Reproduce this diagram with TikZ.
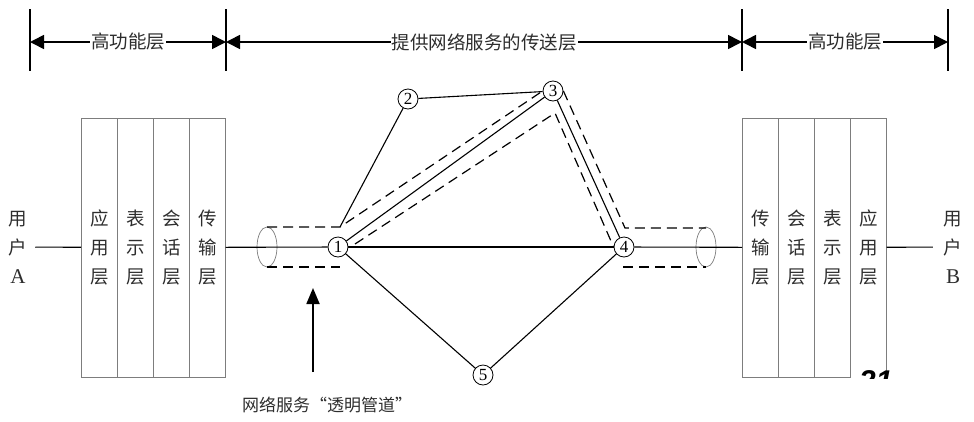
\documentclass[tikz,border=0pt]{standalone}
\usepackage{fontspec}
\setmainfont{Liberation Serif}
\newfontfamily\cjk{Noto Sans CJK SC}
\newfontfamily\slidefont{Liberation Sans}
\usepackage{tikz}
\usetikzlibrary{arrows.meta, positioning, calc}

\begin{document}
\begin{tikzpicture}[
    x=1pt, y=-1pt,
    font=\cjk\fontsize{18.5}{29}\selectfont,
    layer/.style={draw=boxgray, line width=0.7pt, minimum width=36pt, minimum height=259pt,
        inner sep=0pt, align=center, text=txtgray, anchor=north west},
    hub/.style={circle, draw, line width=0.8pt, minimum size=20pt, inner sep=0pt,
        font=\rmfamily\fontsize{17}{17}\selectfont},
    wire/.style={line width=1.1pt},
    pipe/.style={line width=1.2pt, dash pattern=on 10pt off 6pt},
    tube/.style={draw=boxgray, line width=0.7pt},
    tick/.style={line width=1.1pt},
    span/.style={line width=1.6pt, {Triangle[length=14pt, width=14pt]}-{Triangle[length=14pt, width=14pt]}},
    spanlabel/.style={fill=white, inner sep=1pt, text=txtgray},
    user/.style={text=txtgray, inner sep=0pt, align=center}
]
% Define colors
\definecolor{boxgray}{RGB}{125,125,125}
\definecolor{txtgray}{RGB}{45,45,45}

\useasboundingbox (0,0) rectangle (974,421);

% Row and column positions
\def\rowM{247}   % main line
\def\rowT{42}    % top span line
\def\boxTop{117.5}

% Top span: ticks and arrows
\coordinate (t1) at (30,\rowT);
\coordinate (t2) at (226,\rowT);
\coordinate (t3) at (742,\rowT);
\coordinate (t4) at (948,\rowT);
\foreach \t in {t1,t2,t3,t4}
    \draw[tick] ($(\t)+(0,-33)$) -- ($(\t)+(0,29)$);
\draw[span] (t1) -- node[spanlabel] (topLeft) {高功能层} (t2);
\draw[span] (t2) -- node[spanlabel] (topMid) {提供网络服务的传送层} (t3);
\draw[span] (t3) -- node[spanlabel] (topRight) {高功能层} (t4);

% Left stack (user A)
\node[user, outer sep=8pt] (userA) at (18,\rowM) {用\\户\\{\rmfamily\fontsize{21}{29}\selectfont A}};
\node[layer] (a1) at (81,\boxTop) {应\\用\\层};
\node[layer] (a2) at (117,\boxTop) {表\\示\\层};
\node[layer] (a3) at (153,\boxTop) {会\\话\\层};
\node[layer] (a4) at (189,\boxTop) {传\\输\\层};

% Right stack (user B)
\node[layer] (b1) at (742,\boxTop) {传\\输\\层};
\node[layer] (b2) at (778,\boxTop) {会\\话\\层};
\node[layer] (b3) at (814,\boxTop) {表\\示\\层};
\node[layer] (b4) at (850,\boxTop) {应\\用\\层};
\node[user, outer sep=11pt] (userB) at (953,\rowM) {用\\户\\{\rmfamily\fontsize{21}{29}\selectfont B}};

% Switching nodes
\node[hub] (n1) at (338,\rowM) {1};
\node[hub] (n2) at (408,99) {2};
\node[hub] (n3) at (553,91) {3};
\node[hub] (n4) at (624,\rowM) {4};
\node[hub] (n5) at (483,375) {5};

% Tube ends
\draw[tube] (267,\rowM) ellipse [x radius=10pt, y radius=20pt];
\draw[tube] (706,\rowM) ellipse [x radius=10pt, y radius=20pt];

% Pipe corners
\coordinate (tlL) at (267,227);
\coordinate (tlR) at (340,227);
\coordinate (blL) at (267,267);
\coordinate (blR) at (340,267);
\coordinate (in1) at (355,244);
\coordinate (in3) at (555,113);
\coordinate (trL) at (625,228);
\coordinate (trR) at (706,228);
\coordinate (brL) at (623,267);
\coordinate (brR) at (706,267);

% Main line
\draw[wire] (userA) -- (a1);
\draw[wire] (a4) -- (n1);
\draw[wire] (n1) -- (n4);
\draw[wire] (n4) -- (b1);
\draw[wire] (b4) -- (userB);

% Links between nodes
\draw[wire] (n2) -- (tlR);
\draw[wire] (n2) -- (n3);
\draw[wire] (n1) -- (n3);
\draw[wire] (n3) -- (n4);
\draw[wire] (n1) -- (n5);
\draw[wire] (n5) -- (n4);

% Dashed transparent pipe
\draw[pipe] (tlL) -- (tlR) -- (n3.west);
\draw[pipe] (n3.east) -- (trL) -- (trR);
\draw[pipe] (in1) -- (in3) -- (n4.west);
\draw[pipe] (blL) -- (blR);
\draw[pipe] (brL) -- (brR);

% Pointer to the pipe
\coordinate (arrTail) at (313,372);
\coordinate (arrHead) at (313,288);
\draw[line width=1.8pt, -{Triangle[length=16pt, width=13pt]}] (arrTail) -- (arrHead);
\node[text=txtgray, font=\cjk\fontsize{17}{17}\selectfont] (pipeLabel) at (327,405) {网络服务“透明管道”};

% Slide number fragment
\fill[white] (851,374.5) rectangle (905,381);
\begin{scope}
\clip (845,360) rectangle (915,378);
\node[font=\slidefont\bfseries\itshape\fontsize{30}{30}\selectfont, anchor=base west, inner sep=0pt] (slideNo) at (859,391) {21};
\end{scope}

\end{tikzpicture}
\end{document}
